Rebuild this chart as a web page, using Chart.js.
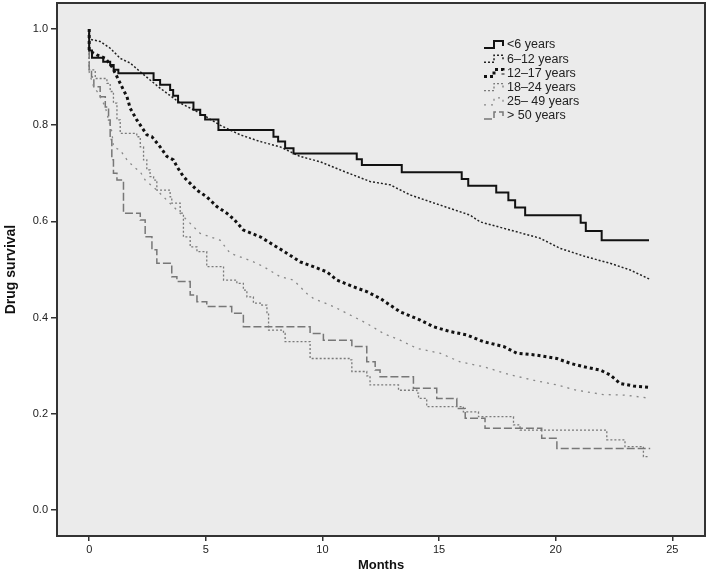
<!DOCTYPE html>
<html>
<head>
<meta charset="utf-8">
<script src="https://cdn.jsdelivr.net/npm/chart.js@4.4.1/dist/chart.umd.min.js"></script>
<style>
  body { margin: 0; background: #fff; }
  canvas { display: block; }
</style>
</head>
<body>
<canvas id="myChart" width="709" height="576"></canvas>
<script>
// DATOS //
const labels = ["<6 years", "6\u201312 years", "12\u201317 years", "18\u201324 years", "25\u2013 49 years", "> 50 years"];
const xTicks = [0, 5, 10, 15, 20, 25];
const yTicks = [0, 0.2, 0.4, 0.6, 0.8, 1.0];

// <6 years
const tU6 = [0, 0, 0.12, 0.6, 0.9, 1.05, 1.25, 2.76, 3.04, 3.47, 3.6, 3.81, 4.47, 4.76, 4.97, 5.54, 7.9, 8.1, 8.4, 8.76, 11.47, 11.69, 13.4, 15.97, 16.25, 17.45, 17.97, 18.26, 18.69, 21.07, 21.29, 21.97, 24.0];
const sU6 = [1.0, 0.955, 0.94, 0.932, 0.925, 0.915, 0.908, 0.894, 0.884, 0.873, 0.861, 0.847, 0.832, 0.821, 0.812, 0.79, 0.776, 0.766, 0.752, 0.741, 0.729, 0.717, 0.702, 0.688, 0.674, 0.66, 0.644, 0.629, 0.613, 0.597, 0.58, 0.561, 0.561];

// 6-12 years
const t612 = [0, 0, 0.47, 0.9, 1.33, 1.76, 2.19, 2.61, 3.04, 3.9, 4.76, 5.61, 6.47, 7.33, 8.19, 9.04, 9.9, 10.76, 12.04, 12.9, 13.76, 15.04, 16.33, 16.76, 18.05, 19.33, 20.19, 21.26, 22.33, 23.19, 24.02];
const s612 = [1.0, 0.979, 0.974, 0.96, 0.939, 0.929, 0.911, 0.894, 0.877, 0.846, 0.825, 0.8, 0.78, 0.766, 0.755, 0.735, 0.724, 0.707, 0.683, 0.676, 0.655, 0.634, 0.613, 0.599, 0.582, 0.565, 0.544, 0.527, 0.513, 0.499, 0.48];

// 12-17 years
const t1217 = [0, 0, 0.33, 0.69, 0.97, 1.19, 1.4, 1.62, 1.76, 2.04, 2.47, 2.69, 3.04, 3.33, 3.61, 3.76, 4.04, 4.33, 4.62, 5.04, 5.47, 5.9, 6.19, 6.61, 7.33, 7.9, 8.47, 9.04, 9.61, 10.19, 10.62, 11.33, 11.9, 12.47, 13.33, 14.19, 14.76, 15.47, 16.19, 16.9, 17.76, 18.33, 19.19, 20.05, 20.62, 21.19, 21.9, 22.33, 22.76, 23.33, 24.05];
const s1217 = [1.0, 0.955, 0.946, 0.939, 0.922, 0.901, 0.88, 0.859, 0.835, 0.811, 0.78, 0.776, 0.755, 0.735, 0.728, 0.714, 0.693, 0.679, 0.665, 0.651, 0.631, 0.617, 0.605, 0.582, 0.568, 0.551, 0.534, 0.516, 0.506, 0.495, 0.478, 0.464, 0.454, 0.44, 0.412, 0.395, 0.381, 0.371, 0.364, 0.35, 0.34, 0.326, 0.322, 0.315, 0.305, 0.298, 0.291, 0.281, 0.263, 0.258, 0.255];

// 18-24 years
const t1824 = [0, 0, 0.26, 0.76, 0.9, 1.04, 1.19, 1.33, 2.04, 2.19, 2.33, 2.47, 2.61, 2.76, 2.9, 3.47, 3.54, 3.9, 4.04, 4.33, 4.62, 5.04, 5.76, 6.33, 6.61, 6.76, 7.04, 7.4, 7.62, 7.69, 8.33, 8.4, 9.47, 11.19, 11.26, 11.9, 12.04, 13.26, 14.05, 14.12, 14.47, 16.04, 16.69, 18.19, 18.47, 22.19, 22.97, 23.76, 23.97];
const s1824 = [1.0, 0.915, 0.897, 0.887, 0.87, 0.846, 0.811, 0.783, 0.776, 0.755, 0.728, 0.707, 0.693, 0.686, 0.665, 0.651, 0.638, 0.617, 0.568, 0.547, 0.537, 0.506, 0.478, 0.471, 0.457, 0.443, 0.43, 0.426, 0.409, 0.374, 0.367, 0.35, 0.315, 0.312, 0.288, 0.279, 0.26, 0.249, 0.243, 0.232, 0.215, 0.204, 0.194, 0.177, 0.166, 0.146, 0.132, 0.111, 0.111];

// 25-49 years
const t2549 = [0, 0, 0.19, 0.4, 0.69, 0.83, 0.97, 1.04, 1.33, 1.62, 1.9, 2.19, 2.4, 2.9, 3.33, 3.9, 4.47, 4.76, 5.61, 6.04, 7.04, 7.47, 8.19, 8.76, 9.33, 9.61, 10.47, 11.04, 11.9, 12.62, 13.33, 14.05, 15.04, 15.9, 16.9, 18.05, 19.04, 20.05, 20.9, 22.05, 22.9, 23.47, 24.05];
const s2549 = [1.0, 0.91, 0.88, 0.866, 0.838, 0.811, 0.787, 0.755, 0.748, 0.728, 0.714, 0.703, 0.686, 0.665, 0.644, 0.617, 0.589, 0.575, 0.561, 0.534, 0.516, 0.506, 0.485, 0.478, 0.45, 0.44, 0.423, 0.409, 0.388, 0.367, 0.353, 0.336, 0.326, 0.308, 0.298, 0.281, 0.27, 0.26, 0.249, 0.24, 0.239, 0.236, 0.232];

// > 50 years
const t50 = [0, 0, 0.1, 0.2, 0.47, 0.69, 0.83, 0.9, 0.97, 1.04, 1.19, 1.47, 2.19, 2.4, 2.69, 2.9, 3.54, 3.76, 4.33, 4.62, 5.04, 6.11, 6.61, 9.47, 10.04, 11.26, 11.9, 12.26, 12.47, 13.9, 14.9, 15.76, 16.12, 16.97, 19.4, 20.05, 24.05];
const s50 = [1.0, 0.915, 0.9, 0.88, 0.859, 0.838, 0.811, 0.77, 0.728, 0.7, 0.686, 0.617, 0.603, 0.568, 0.541, 0.513, 0.485, 0.475, 0.447, 0.433, 0.423, 0.409, 0.381, 0.367, 0.353, 0.34, 0.308, 0.291, 0.277, 0.253, 0.232, 0.211, 0.191, 0.17, 0.149, 0.128, 0.128];

// juntar tiempo y supervivencia
function puntos(t, s) {
  return t.map((v, i) => ({ x: v, y: s[i] }));
}

const series = [
  { t: tU6, s: sU6, color: "#111", width: 2, dash: [], stepped: true },
  { t: t612, s: s612, color: "#222", width: 1.5, dash: [2, 2], stepped: false },
  { t: t1217, s: s1217, color: "#111", width: 3, dash: [3, 3], stepped: false },
  { t: t1824, s: s1824, color: "#7a7a7a", width: 1.3, dash: [2, 2], stepped: true },
  { t: t2549, s: s2549, color: "#888", width: 1.3, dash: [2, 5], stepped: false },
  { t: t50, s: s50, color: "#777", width: 1.5, dash: [8, 3], stepped: true },
];

const datasets = series.map((d, i) => ({
  label: labels[i],
  data: puntos(d.t, d.s),
  borderColor: d.color,
  borderWidth: d.width,
  borderDash: d.dash,
  stepped: d.stepped,
  pointRadius: 0,
  fill: false,
  tension: 0,
}));

// fondo gris y borde del area //
const marco = {
  id: "marco",
  beforeDatasetsDraw(chart) {
    const { ctx, chartArea: a } = chart;
    ctx.save();
    ctx.fillStyle = "#ebebeb";
    ctx.fillRect(a.left, a.top, a.right - a.left, a.bottom - a.top);
    ctx.restore();
  },
  afterDraw(chart) {
    const { ctx, chartArea: a } = chart;
    ctx.save();
    ctx.strokeStyle = "#333";
    ctx.lineWidth = 2;
    ctx.strokeRect(a.left, a.top, a.right - a.left, a.bottom - a.top);
    ctx.restore();
  },
};

// leyenda dentro del grafico //
const leyenda = {
  id: "leyenda",
  afterDraw(chart) {
    const ctx = chart.ctx;
    ctx.save();
    ctx.font = "12.5px 'Liberation Sans', Arial, sans-serif";
    ctx.textBaseline = "middle";
    ctx.fillStyle = "#222";
    chart.data.datasets.forEach((ds, i) => {
      const y = 45 + i * 14.2;
      const x0 = 484;
      ctx.strokeStyle = ds.borderColor;
      ctx.lineWidth = ds.borderWidth;
      ctx.setLineDash(ds.borderDash);
      ctx.beginPath();
      ctx.moveTo(x0, y + 3);
      ctx.lineTo(x0 + 10, y + 3);
      ctx.lineTo(x0 + 10, y - 4);
      ctx.lineTo(x0 + 19, y - 4);
      ctx.lineTo(x0 + 19, y + 1);
      ctx.stroke();
      ctx.setLineDash([]);
      ctx.fillText(ds.label, 507, y);
    });
    ctx.restore();
  },
};

const ctx = document.getElementById("myChart").getContext("2d");
new Chart(ctx, {
  type: "line",
  data: { datasets: datasets },
  plugins: [marco, leyenda],
  options: {
    responsive: false,
    animation: false,
    devicePixelRatio: 1,
    layout: { padding: { top: 3, right: 4, left: 0, bottom: 0 } },
    plugins: { legend: { display: false }, tooltip: { enabled: false } },
    scales: {
      x: {
        type: "linear",
        min: -1.38,
        max: 26.4,
        afterBuildTicks: (s) => { s.ticks = xTicks.map((v) => ({ value: v })); },
        afterFit: (s) => { s.height = 40; s.paddingLeft = 0; s.paddingRight = 0; },
        grid: { drawOnChartArea: false, color: "#333", tickLength: 5, lineWidth: 1.5 },
        border: { display: false },
        ticks: { color: "#222", font: { family: "'Liberation Sans', Arial", size: 11 }, padding: 2, maxRotation: 0 },
        title: { display: true, text: "Months", color: "#111", font: { family: "'Liberation Sans', Arial", size: 13, weight: "bold" }, padding: { top: 0, bottom: 3 } },
      },
      y: {
        type: "linear",
        min: -0.054,
        max: 1.054,
        afterBuildTicks: (s) => { s.ticks = yTicks.map((v) => ({ value: v })); },
        afterFit: (s) => { s.width = 57; s.paddingTop = 0; s.paddingBottom = 0; },
        grid: { drawOnChartArea: false, color: "#333", tickLength: 6, lineWidth: 1.5 },
        border: { display: false },
        ticks: { color: "#222", font: { family: "'Liberation Sans', Arial", size: 11 }, padding: 3, callback: (v) => v.toFixed(1) },
        title: { display: true, text: "Drug survival", color: "#111", font: { family: "'Liberation Sans', Arial", size: 14, weight: "bold" }, padding: { top: 3, bottom: 0 } },
      },
    },
  },
});
</script>
</body>
</html>
